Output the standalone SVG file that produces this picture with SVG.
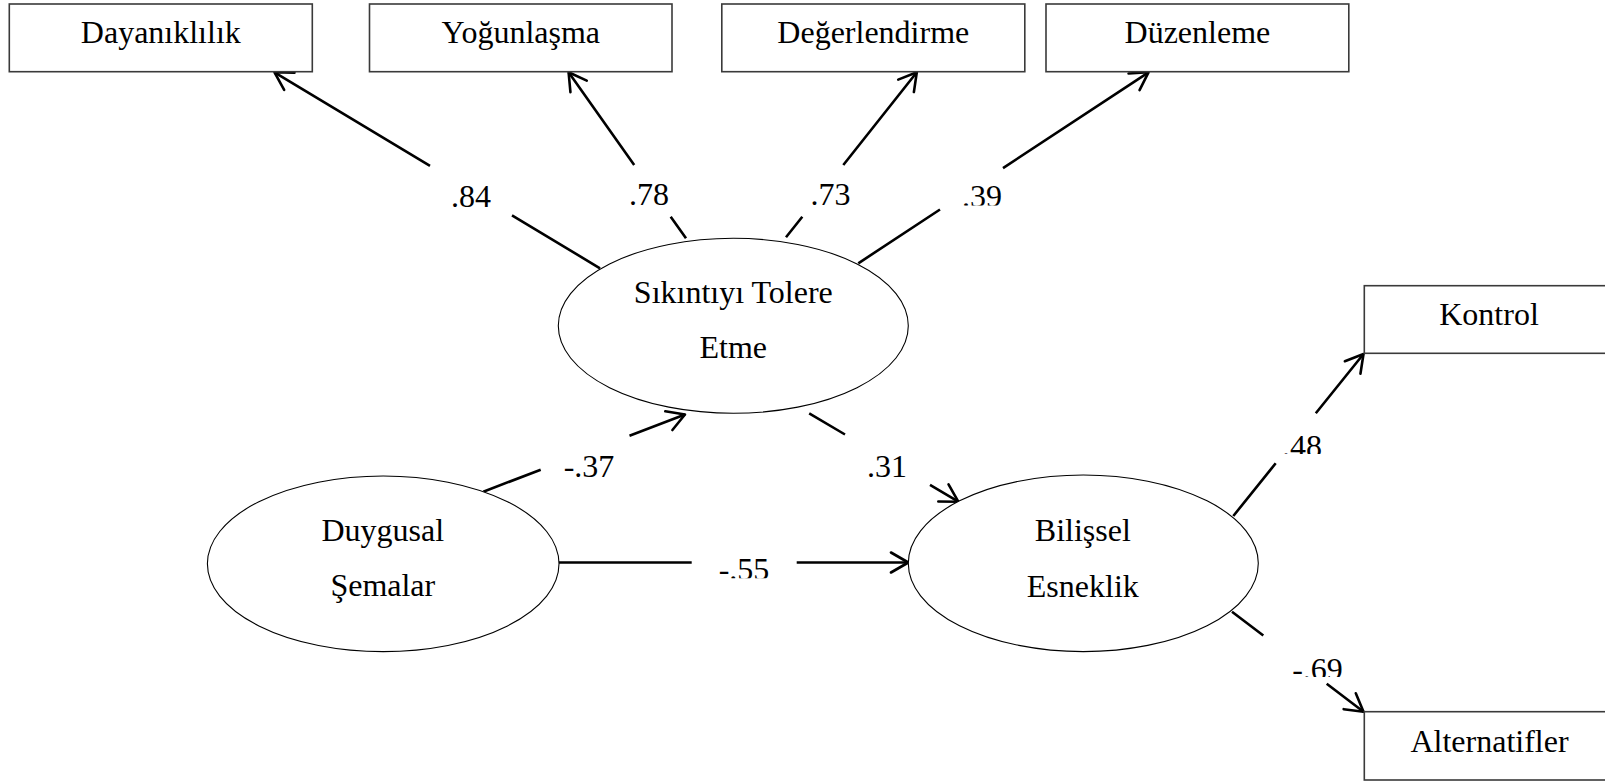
<svg xmlns="http://www.w3.org/2000/svg" width="1605" height="782" viewBox="0 0 1605 782">
<style>
  .box { fill: #fff; stroke: #3a3a3a; stroke-width: 1.6; }
  .ell { fill: #fff; stroke: #000; stroke-width: 1.1; }
  .txt { font-family: "Liberation Serif", "Times New Roman", serif; font-size: 32px; fill: #000; text-anchor: middle; }
  .con { fill: none; stroke: #000; stroke-width: 2.6; marker-end: url(#arr); }
  .lbl { font-family: "Liberation Serif", "Times New Roman", serif; font-size: 32px; fill: #000; text-anchor: middle; }
</style>
<defs>
  <marker id="arr" viewBox="-20 -12 22 24" markerWidth="22" markerHeight="24" refX="0" refY="0" orient="auto" markerUnits="userSpaceOnUse">
    <path d="M -17.3 -10 L 0 0 L -17.3 10" fill="none" stroke="#000" stroke-width="2.6" stroke-linejoin="round" stroke-linecap="round"/>
  </marker>
  <clipPath id="c39"><rect x="940" y="160" width="80" height="45.5"/></clipPath>
  <clipPath id="c55"><rect x="700" y="540" width="90" height="38.3"/></clipPath>
  <clipPath id="c48"><rect x="1283" y="420" width="50" height="34"/></clipPath>
  <clipPath id="c69"><rect x="1280" y="640" width="80" height="37"/></clipPath>
</defs>
<rect width="1605" height="782" fill="#fff"/>

<g id="connectors">
  <path class="con" d="M 600 268.3 L 512 215.3 M 430 165.9 L 274.5 72.3"/>
  <path class="con" d="M 686 238.3 L 670.7 216.7 M 634.2 165 L 568.6 72.3"/>
  <path class="con" d="M 786 237.3 L 802.3 216.7 M 843.3 165 L 916.8 72.3"/>
  <path class="con" d="M 858.3 263.3 L 940 209.5 M 1003 168.1 L 1148.5 72.3"/>
  <path class="con" d="M 483.3 491.7 L 540.7 469.7 M 629.5 435.7 L 685 414.5"/>
  <path class="con" d="M 809.2 413.3 L 845 434.5 M 930 484.9 L 958.3 501.7"/>
  <path class="con" d="M 559 562.5 L 691.7 562.5 M 796.7 562.5 L 908.3 562.5"/>
  <path class="con" d="M 1233.3 516 L 1275.7 463.3 M 1315.8 413.3 L 1363.5 354"/>
  <path class="con" d="M 1232 611.7 L 1263.3 635.5 M 1326.7 683.7 L 1363.5 711.7"/>
</g>

<g id="labels">
  <text class="lbl" x="471" y="206.5">.84</text>
  <text class="lbl" x="649" y="205">.78</text>
  <text class="lbl" x="830.5" y="205">.73</text>
  <text class="lbl" x="982" y="207" clip-path="url(#c39)">.39</text>
  <text class="lbl" x="589" y="476.7">-.37</text>
  <text class="lbl" x="887" y="476.7">.31</text>
  <text class="lbl" x="744" y="580" clip-path="url(#c55)">-.55</text>
  <text class="lbl" x="1302" y="456.6" clip-path="url(#c48)">.48</text>
  <text class="lbl" x="1317.5" y="680" clip-path="url(#c69)">-.69</text>
</g>

<g id="n-dayaniklilik">
  <rect class="box" x="9.3" y="4" width="303" height="67.7"/>
  <text class="txt" x="160.8" y="43.3">Dayanıklılık</text>
</g>
<g id="n-yogunlasma">
  <rect class="box" x="369.5" y="4" width="302.5" height="67.7"/>
  <text class="txt" x="520.8" y="43.3">Yoğunlaşma</text>
</g>
<g id="n-degerlendirme">
  <rect class="box" x="721.8" y="4" width="303" height="67.7"/>
  <text class="txt" x="873.3" y="43.3">Değerlendirme</text>
</g>
<g id="n-duzenleme">
  <rect class="box" x="1046" y="4" width="302.8" height="67.7"/>
  <text class="txt" x="1197.4" y="43.3">Düzenleme</text>
</g>
<g id="n-kontrol">
  <rect class="box" x="1364.3" y="285.7" width="260" height="67.6"/>
  <text class="txt" x="1489" y="325">Kontrol</text>
</g>
<g id="n-alternatifler">
  <rect class="box" x="1364.3" y="711.7" width="260" height="68.3"/>
  <text class="txt" x="1489.5" y="751.7">Alternatifler</text>
</g>

<g id="n-sikintiyi">
  <ellipse class="ell" cx="733.3" cy="325.8" rx="175" ry="87.5"/>
  <text class="txt" x="733.3" y="303.3">Sıkıntıyı Tolere</text>
  <text class="txt" x="733.3" y="358.3">Etme</text>
</g>
<g id="n-duygusal">
  <ellipse class="ell" cx="383.2" cy="563.8" rx="175.8" ry="87.8"/>
  <text class="txt" x="382.8" y="540.7">Duygusal</text>
  <text class="txt" x="382.8" y="595.7">Şemalar</text>
</g>
<g id="n-bilissel">
  <ellipse class="ell" cx="1083.3" cy="563.3" rx="175" ry="88.3"/>
  <text class="txt" x="1082.8" y="541">Bilişsel</text>
  <text class="txt" x="1082.8" y="596.7">Esneklik</text>
</g>
</svg>
